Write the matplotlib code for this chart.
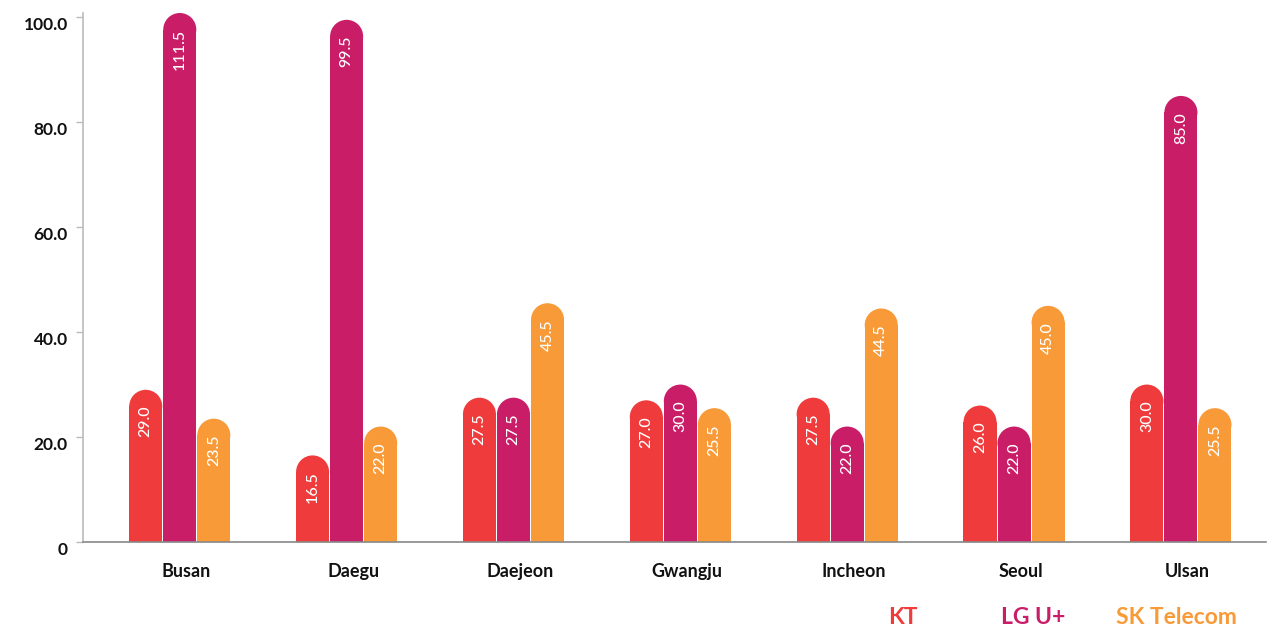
import matplotlib
matplotlib.use("Agg")
import matplotlib.pyplot as plt
from matplotlib.patches import Rectangle, Ellipse
import numpy as np

cities = ["Busan", "Daegu", "Daejeon", "Gwangju", "Incheon", "Seoul", "Ulsan"]
kt = [29.0, 16.5, 27.5, 27.0, 27.5, 26.0, 30.0]
lgu = [111.5, 99.5, 27.5, 30.0, 22.0, 22.0, 85.0]
skt = [23.5, 22.0, 45.5, 25.5, 44.5, 45.0, 25.5]
series_names = ["KT", "LG U+", "SK Telecom"]
colors = ["#EF3B3B", "#C91D67", "#F89A38"]
yticks = [0, 20, 40, 60, 80, 100]
ytick_labels = ["0", "20.0", "40.0", "60.0", "80.0", "100.0"]

FONT = ["Lato", "DejaVu Sans"]
plt.rcParams["font.family"] = FONT

W, H, DPI = 1269, 629, 100
fig = plt.figure(figsize=(W / DPI, H / DPI), dpi=DPI)
left_px, right_px, bottom_px, top_px = 83, 1266, 542, 13
ax = fig.add_axes([left_px / W, 1 - bottom_px / H, (right_px - left_px) / W, (bottom_px - top_px) / H])

YMAX = 100.8
XMIN, XMAX = -0.58, 6.51
ax.set_ylim(0, YMAX)
ax.set_xlim(XMIN, XMAX)

ax_w_px = right_px - left_px
ax_h_px = bottom_px - top_px
ppux = ax_w_px / (XMAX - XMIN)
ppuy = ax_h_px / YMAX

bw = 0.204
gap = 0.006
r_y = (bw - gap) * ppux / 2 / ppuy
label_off = 16 / ppuy

x = np.arange(len(cities))
for si, (vals, col) in enumerate(zip([kt, lgu, skt], colors)):
    for i, v in enumerate(vals):
        xc = x[i] + (si - 1) * bw
        vv = min(v, YMAX)
        rect_h = max(vv - r_y, 0)
        ax.add_patch(Rectangle((xc - (bw - gap) / 2, 0), bw - gap, rect_h,
                               facecolor=col, edgecolor="none", zorder=2))
        ax.add_patch(Ellipse((xc, rect_h), bw - gap, 2 * r_y,
                             facecolor=col, edgecolor="none", zorder=2))
        ax.text(xc, vv - label_off, f"{v:.1f}", rotation=90, ha="center", va="top",
                color="white", fontsize=11.5, fontweight="medium", zorder=3)

ax.set_yticks(yticks)
ax.set_yticklabels(ytick_labels, fontsize=12.5, fontweight="bold", color="#111111", va="top")
# category labels sit slightly right of the bar-group centre
ax.set_xticks(x + 6.5 / ppux)
ax.set_xticklabels(cities, fontsize=13, fontweight="bold", color="#111111")
ax.tick_params(axis="x", length=0, pad=15)
ax.tick_params(axis="y", length=5, width=1, color="#bbbbbb", pad=6)

for s in ["top", "right"]:
    ax.spines[s].set_visible(False)
ax.spines["left"].set_color("#bbbbbb")
ax.spines["left"].set_linewidth(1.2)
ax.spines["bottom"].set_color("#888888")
ax.spines["bottom"].set_linewidth(1.2)

legend_x = [903, 1033, 1176]
for name, col, lx in zip(series_names, colors, legend_x):
    fig.text(lx / W, 1 - 618 / H, name, color=col, fontsize=16.5, fontweight="bold",
             ha="center", va="center")

fig.savefig("out.png", dpi=DPI)
